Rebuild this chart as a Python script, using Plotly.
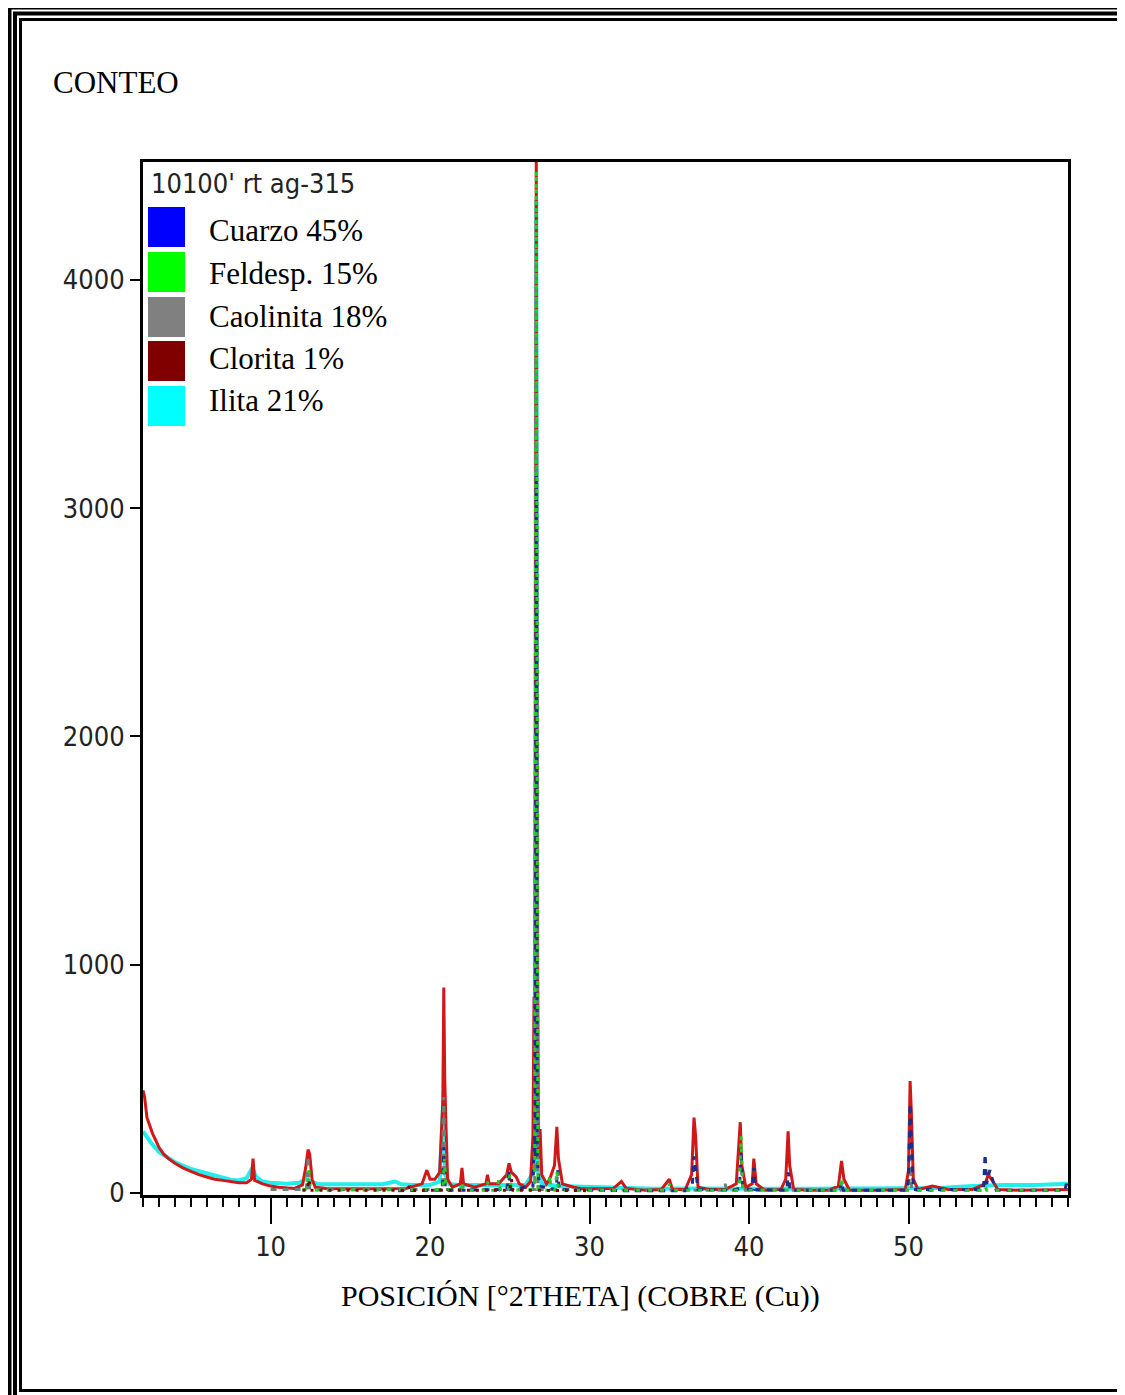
import plotly.graph_objects as go

# ---------------- data ----------------
red_x = [2.0, 2.1, 2.25, 2.4, 2.6, 2.8, 3.0, 3.3, 3.6, 4.0, 4.5, 5.0, 5.5, 6.0, 6.5, 7.0, 7.5, 8.0, 8.5, 8.8, 8.9, 9.0,
         9.5, 10.0, 10.5, 11.0, 11.5, 12.0, 12.2, 12.35, 12.45, 12.6, 12.8, 13.5, 14.5, 15.5, 16.5, 17.5, 18.5, 19.5,
         19.8, 20.0, 20.3, 20.6, 20.8, 20.86, 20.92, 21.0, 21.1, 21.4, 21.9, 22.0, 22.1, 22.8, 23.5, 23.6, 23.7, 24.3,
         24.8, 24.95, 25.1, 25.4, 25.6, 26.0, 26.3, 26.45, 26.52, 26.58, 26.66, 26.72, 26.8, 26.9, 27.0, 27.3, 27.5,
         27.8, 27.95, 28.05, 28.3, 29.0, 29.5, 30.5, 31.5, 32.0, 32.3, 33.5, 34.5, 35.0, 35.2, 36.0, 36.4, 36.55,
         36.65, 36.8, 37.5, 38.5, 39.2, 39.45, 39.55, 39.8, 40.2, 40.3, 40.45, 41.0, 42.0, 42.3, 42.45, 42.55, 42.8,
         44.0, 45.0, 45.6, 45.8, 45.95, 46.3, 48.0, 49.8, 50.0, 50.1, 50.18, 50.3, 50.6, 51.5, 52.5, 54.0, 54.8, 55.0,
         55.3, 55.6, 57.0, 59.0, 60.0]
red_y = [450, 420, 330, 300, 260, 230, 200, 170, 150, 130, 110, 95, 80, 70, 60, 55, 50, 45, 45, 60, 150, 55,
         40, 30, 25, 22, 20, 35, 110, 190, 170, 60, 25, 20, 18, 18, 18, 18, 20, 40,
         100, 60, 60, 90, 400, 900, 500, 290, 60, 25, 40, 110, 40, 25, 40, 80, 40, 40,
         80, 130, 90, 70, 40, 25, 50, 250, 860, 600, 4600, 1200, 150, 280, 80, 40, 60,
         120, 290, 150, 40, 25, 18, 18, 20, 50, 20, 12, 15, 60, 15, 15, 80, 330,
         250, 25, 15, 15, 40, 310, 120, 25, 40, 150, 40, 12, 15, 60, 270, 120, 15,
         12, 12, 30, 140, 60, 12, 12, 15, 100, 490, 350, 60, 15, 30, 15, 15, 40, 80,
         50, 15, 12, 12, 15]

ilita_x = [2.0, 2.5, 3.0, 3.5, 4.0, 4.5, 5.0, 5.5, 6.0, 6.5, 7.0, 7.5, 8.0, 8.5, 8.85, 9.1, 9.5, 10.0, 11.0, 11.8,
           12.2, 12.5, 13.0, 14.0, 15.0, 16.0, 17.0, 17.8, 18.2, 19.0, 20.0, 20.6, 20.8, 20.86, 20.95, 21.2, 22.0,
           23.0, 24.0, 25.0, 26.0, 26.55, 26.66, 26.75, 27.0, 28.0, 29.0, 30.0, 32.0, 34.0, 36.0, 38.0, 40.0, 42.0,
           44.0, 46.0, 48.0, 50.0, 52.0, 54.0, 56.0, 58.0, 60.0]
ilita_y = [270, 220, 180, 155, 135, 120, 105, 95, 85, 75, 65, 58, 55, 65, 110, 70, 50, 45, 40, 45,
           60, 50, 38, 38, 38, 38, 38, 50, 38, 35, 35, 50, 300, 450, 80, 38, 35,
           35, 35, 38, 35, 100, 4350, 100, 40, 30, 28, 25, 22, 18, 20, 18, 18, 18,
           18, 18, 18, 22, 22, 30, 35, 35, 40]

cuarzo_x = [18.0, 20.76, 20.86, 20.96, 22.0, 24.85, 24.95, 25.05, 26.45, 26.55, 26.6, 26.66, 26.72, 26.85, 27.9,
            28.0, 28.1, 30.0, 32.0, 34.0, 36.0, 36.45, 36.55, 36.65, 36.8, 39.0, 39.4, 39.5, 39.6, 40.2, 40.3, 40.4,
            42.37, 42.47, 42.57, 45.7, 45.8, 45.9, 49.9, 50.0, 50.1, 50.2, 50.3, 54.7, 54.8, 54.9, 55.1, 55.3, 55.5,
            59.8, 59.9, 60.0]
cuarzo_y = [10, 12, 200, 12, 12, 15, 100, 15, 30, 260, 150, 3150, 150, 30, 15,
            100, 15, 12, 10, 10, 10, 40, 160, 100, 15, 12, 20, 180, 20, 15, 110, 15,
            12, 90, 12, 12, 50, 12, 12, 60, 390, 200, 15, 15, 170, 40, 100, 50, 12,
            12, 40, 12]

feldesp_x = [12.0, 12.3, 12.4, 12.5, 13.0, 18.5, 20.8, 20.9, 21.0, 21.9, 22.0, 22.1, 23.5, 23.6, 23.7, 24.2, 24.3,
             24.4, 24.9, 25.0, 25.1, 26.56, 26.66, 26.76, 27.4, 27.5, 27.6, 27.85, 27.95, 28.05, 34.9, 35.0, 35.1,
             39.4, 39.5, 39.6, 45.7, 45.8, 45.9, 54.7, 54.8, 54.9, 60.0]
feldesp_y = [15, 15, 100, 15, 12, 12, 15, 150, 15, 12, 50, 12, 12, 50, 12, 12, 60,
             12, 12, 80, 12, 15, 4480, 15, 12, 80, 12, 12, 100, 12, 12, 40, 12,
             12, 250, 12, 12, 70, 12, 12, 30, 12, 12]

caolinita_x = [10.0, 12.25, 12.35, 12.45, 13.0, 19.8, 20.76, 20.86, 20.96, 24.8, 24.9, 25.0, 26.56, 26.66, 26.76,
               35.0, 38.4, 38.5, 38.6, 45.7, 45.8, 45.9, 50.0, 50.1, 50.2, 55.0]
caolinita_y = [15, 15, 160, 15, 15, 15, 15, 420, 15, 15, 100, 15, 15, 4080, 15,
               12, 12, 40, 12, 12, 40, 12, 12, 120, 12, 12]

clorita_x = [12.0, 12.3, 12.4, 12.5, 18.6, 18.7, 18.8, 25.0, 25.1, 25.2, 30.0]
clorita_y = [12, 12, 60, 12, 12, 30, 12, 12, 60, 12, 10]

legend_names = ["Cuarzo 45%", "Feldesp. 15%", "Caolinita 18%", "Clorita 1%", "Ilita 21%"]
legend_colors = ["#0000FF", "#00FF00", "#808080", "#800000", "#00FFFF"]

y_ticks = [0, 1000, 2000, 3000, 4000]
x_ticks = [10, 20, 30, 40, 50]

sample_label = "10100' rt ag-315"
y_title = "CONTEO"
x_title = "POSICIÓN [°2THETA] (COBRE (Cu))"

# ---------------- layout geometry ----------------
# the browser adds an 8px body margin; all page pixel positions are shifted to compensate
OFF = 8
W, H = 1125 - OFF, 1395 - OFF
L, R, T, B = 143 - OFF, 1068 - OFF, 162 - OFF, 1195 - OFF
PW, PH = R - L, B - T


def px(x):
    return (x - OFF - L) / PW


def py(y):
    return (B - (y - OFF)) / PH


fig = go.Figure()

fig.add_trace(go.Scatter(x=ilita_x, y=ilita_y, mode="lines", line=dict(color="#22EEEE", width=4),
                         showlegend=False))
fig.add_trace(go.Scatter(x=red_x, y=red_y, mode="lines", line=dict(color="#D01818", width=3), showlegend=False))
fig.add_trace(go.Scatter(x=caolinita_x, y=caolinita_y, mode="lines",
                         line=dict(color="#6E7F74", width=3, dash="6px,6px"), showlegend=False))
fig.add_trace(go.Scatter(x=cuarzo_x, y=cuarzo_y, mode="lines",
                         line=dict(color="#1A2E8C", width=3, dash="6px,6px"), showlegend=False))
fig.add_trace(go.Scatter(x=feldesp_x, y=feldesp_y, mode="lines",
                         line=dict(color="#22CC22", width=3, dash="4px,8px"), showlegend=False))
fig.add_trace(go.Scatter(x=clorita_x, y=clorita_y, mode="lines",
                         line=dict(color=legend_colors[3], width=3, dash="3px,6px"), showlegend=False))

tick_font = dict(family="DejaVu Sans Condensed, Liberation Sans Narrow, Liberation Sans, sans-serif",
                 size=27, color="#222222")
serif = "Liberation Serif, Times New Roman, serif"

fig.update_xaxes(range=[2.0, 60.0], tickvals=x_ticks, ticktext=[str(v) for v in x_ticks],
                 showline=True, linewidth=3, linecolor="black", mirror=True,
                 ticks="outside", ticklen=26, tickwidth=2, tickcolor="black",
                 minor=dict(dtick=1, ticks="outside", ticklen=9, tickwidth=2, tickcolor="black"),
                 showgrid=False, zeroline=False, tickfont=tick_font, ticklabelstandoff=0)
fig.update_yaxes(range=[-9, 4517], tickvals=y_ticks, ticktext=[str(v) for v in y_ticks],
                 showline=True, linewidth=3, linecolor="black", mirror=True,
                 ticks="outside", ticklen=10, tickwidth=2, tickcolor="black",
                 showgrid=False, zeroline=False, tickfont=tick_font, ticklabelstandoff=0)

shapes = []
annotations = []

# legend swatches and texts
sw_top = [207, 252, 297, 341, 386]
txt_y = [230, 273, 316, 358, 400]
for i, (name, col) in enumerate(zip(legend_names, legend_colors)):
    shapes.append(dict(type="rect", xref="paper", yref="paper",
                       x0=px(148), x1=px(185), y0=py(sw_top[i] + 40), y1=py(sw_top[i]),
                       fillcolor=col, line=dict(width=0)))
    annotations.append(dict(text=name, xref="paper", yref="paper", x=px(207), y=py(txt_y[i]),
                            xanchor="left", yanchor="middle", showarrow=False,
                            font=dict(family=serif, size=31, color="black")))

annotations.append(dict(text=sample_label, xref="paper", yref="paper", x=px(149), y=py(184),
                        xanchor="left", yanchor="middle", showarrow=False,
                        font=dict(family=tick_font["family"], size=27, color="#222222")))
annotations.append(dict(text=y_title, xref="paper", yref="paper", x=px(51), y=py(83),
                        xanchor="left", yanchor="middle", showarrow=False,
                        font=dict(family=serif, size=31, color="black")))
annotations.append(dict(text=x_title, xref="paper", yref="paper", x=px(580), y=py(1296),
                        xanchor="center", yanchor="middle", showarrow=False,
                        font=dict(family=serif, size=30, color="black")))


# page frame (triple line border)
def hline(y, x0, x1, w):
    shapes.append(dict(type="line", xref="paper", yref="paper", x0=px(x0), x1=px(x1), y0=py(y), y1=py(y),
                       line=dict(color="black", width=w)))


def vline(x, y0, y1, w):
    shapes.append(dict(type="line", xref="paper", yref="paper", x0=px(x), x1=px(x), y0=py(y0), y1=py(y1),
                       line=dict(color="black", width=w)))


# outer
hline(7.5, 8, 1126, 4)
vline(9.5, 6, 1400, 4)
vline(1123.5, 6, 1400, 4)
# middle
hline(13.5, 13, 1122, 4)
vline(15, 12, 1400, 4)
# inner
hline(19.5, 19, 1121, 3)
vline(20.5, 19, 1392, 3)
vline(1119.5, 13, 1392, 3)
hline(1390.5, 19, 1121, 3)

fig.update_layout(width=W, height=H, margin=dict(l=L, r=W - R, t=T, b=H - B, pad=0),
                  paper_bgcolor="white", plot_bgcolor="white",
                  shapes=shapes, annotations=annotations, showlegend=False)

fig.write_html("out.html")
